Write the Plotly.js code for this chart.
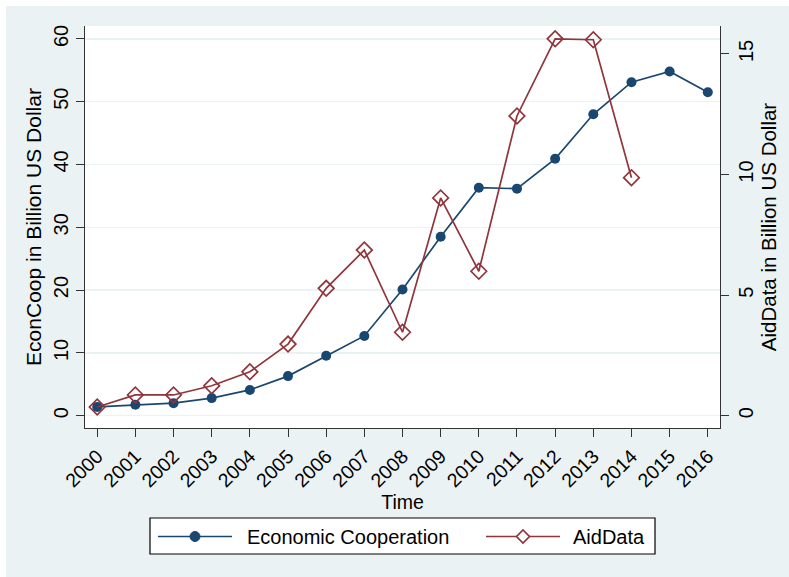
<!DOCTYPE html>
<html>
<head>
<meta charset="utf-8">
<script src="https://cdn.plot.ly/plotly-3.0.1.min.js"></script>
<style>
html,body{margin:0;padding:0;background:#ffffff;}
#chart{position:absolute;left:6px;top:6px;width:783px;height:571px;}
</style>
</head>
<body>
<div id="chart"></div>
<script>
const years = [2000,2001,2002,2003,2004,2005,2006,2007,2008,2009,2010,2011,2012,2013,2014,2015,2016];
const econCoop = [1.4,1.75,2.0,2.8,4.1,6.3,9.55,12.7,20.1,28.5,36.3,36.15,40.9,48.0,53.1,54.8,51.5];
const aidYears = [2000,2001,2002,2003,2004,2005,2006,2007,2008,2009,2010,2011,2012,2013,2014];
const aidData = [0.36,0.86,0.86,1.24,1.82,2.97,5.28,6.87,3.46,9.03,5.99,12.43,15.63,15.59,9.87];
const leftTicks = [0,10,20,30,40,50,60];
const rightTicks = [0,5,10,15];
const seriesNames = ['Economic Cooperation', 'AidData'];

const blue = '#1a476f';
const red = '#90353b';
const bg = '#eaf2f3';
const font = 'Liberation Sans, Arial, Helvetica, sans-serif';

// plot area in page pixels (for legend placement)
const PL = 85, PR = 720, PT = 26, PB = 428;
const px = v => (v - PL) / (PR - PL);
const py = v => (PB - v) / (PB - PT);

const traces = [
  {x: years, y: econCoop, name: seriesNames[0], type: 'scatter', mode: 'lines+markers',
   line: {color: blue, width: 1.7}, marker: {symbol: 'circle', size: 10, color: blue}, yaxis: 'y'},
  {x: aidYears, y: aidData, name: seriesNames[1], type: 'scatter', mode: 'lines+markers',
   line: {color: red, width: 1.7}, marker: {symbol: 'diamond-open', size: 12, color: red, line: {width: 1.7, color: red}}, yaxis: 'y2'}
];

const legY = 536.5;
const shapes = [
  {type: 'rect', xref: 'paper', yref: 'paper', x0: px(150), x1: px(655), y0: py(518), y1: py(554),
   fillcolor: '#ffffff', line: {color: '#000', width: 1.2}, layer: 'above'},
  {type: 'line', xref: 'paper', yref: 'paper', x0: px(158), x1: px(232), y0: py(legY), y1: py(legY),
   line: {color: blue, width: 1.7}},
  {type: 'circle', xref: 'paper', yref: 'paper', x0: px(190), x1: px(200), y0: py(legY + 5), y1: py(legY - 5),
   fillcolor: blue, line: {color: blue, width: 1}},
  {type: 'line', xref: 'paper', yref: 'paper', x0: px(486), x1: px(560), y0: py(legY), y1: py(legY),
   line: {color: red, width: 1.7}},
  {type: 'path', xref: 'paper', yref: 'paper',
   path: `M ${px(516.5)} ${py(legY)} L ${px(523)} ${py(legY - 6.5)} L ${px(529.5)} ${py(legY)} L ${px(523)} ${py(legY + 6.5)} Z`,
   fillcolor: '#ffffff', line: {color: red, width: 1.7}}
];

const annotations = [
  {xref: 'paper', yref: 'paper', x: px(245), y: py(legY), xanchor: 'left', yanchor: 'middle', showarrow: false,
   text: seriesNames[0], font: {size: 20, family: font, color: '#000'}},
  {xref: 'paper', yref: 'paper', x: px(571), y: py(legY), xanchor: 'left', yanchor: 'middle', showarrow: false,
   text: seriesNames[1], font: {size: 20, family: font, color: '#000'}}
];

const layout = {
  width: 783, height: 571,
  margin: {l: 79, r: 69, t: 20, b: 149},
  paper_bgcolor: bg, plot_bgcolor: '#ffffff',
  font: {family: font, color: '#000'},
  showlegend: false,
  shapes: shapes,
  annotations: annotations,
  xaxis: {range: [1999.68, 2016.32], tickvals: years, ticktext: years.map(String), tickangle: -45,
          ticks: 'outside', ticklen: 8, tickcolor: '#333', showline: true, linecolor: '#333', linewidth: 1.3,
          showgrid: false, zeroline: false, tickfont: {size: 19.5},
          title: {text: 'Time', font: {size: 19.5}, standoff: 0}},
  yaxis: {range: [-1.96, 62.05], tickvals: leftTicks, ticks: 'outside', ticklen: 8, tickcolor: '#333',
          showline: true, linecolor: '#333', linewidth: 1.3, showgrid: true, gridcolor: '#eaf2f3', gridwidth: 1.5,
          zeroline: false, tickangle: -90, tickfont: {size: 20},
          title: {text: 'EconCoop in Billion US Dollar', font: {size: 21}, standoff: 2}},
  yaxis2: {range: [-0.51, 16.16], tickvals: rightTicks, overlaying: 'y', side: 'right', ticks: 'outside', ticklen: 8,
           tickcolor: '#333', showline: true, linecolor: '#333', linewidth: 1.3, showgrid: false, zeroline: false,
           tickangle: -90, tickfont: {size: 20},
           title: {text: 'AidData in Billion US Dollar', font: {size: 20.5}, standoff: 2}}
};

Plotly.newPlot('chart', traces, layout, {displayModeBar: false, staticPlot: true});
</script>
</body>
</html>
